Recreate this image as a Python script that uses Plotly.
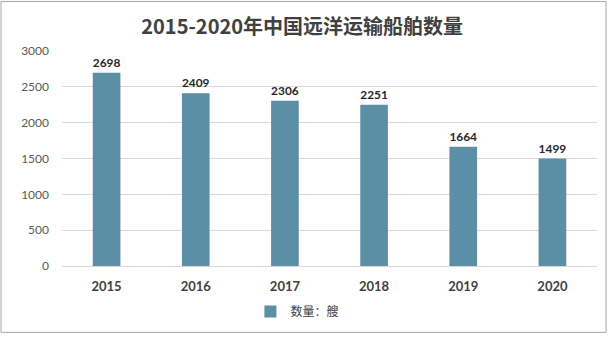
import plotly.graph_objects as go

years = ["2015", "2016", "2017", "2018", "2019", "2020"]
ships = [2698, 2409, 2306, 2251, 1664, 1499]
y_ticks = [0, 500, 1000, 1500, 2000, 2500, 3000]

W, H = 608, 337
ml, mr, mt, mb = 62, 11, 51, 69
pw, ph = W - ml - mr, H - mt - mb

font_latin = "Lato, 'Noto Sans CJK SC', sans-serif"
font_cjk = "'Noto Sans CJK SC', sans-serif"

fig = go.Figure()
fig.add_trace(go.Bar(
    x=years,
    y=ships,
    name="数量：艘",
    marker=dict(color="#5B8FA6", line=dict(width=0)),
    text=[str(v) for v in ships],
    textposition="outside",
    textfont=dict(family=font_latin, size=12, color="#262626", weight="bold"),
    cliponaxis=False,
))

def px_to_paper_x(px):
    return (px - ml) / pw

def px_to_paper_y(py):
    return (H - mb - py) / ph

fig.update_layout(
    width=W,
    height=H,
    margin=dict(l=ml, r=mr, t=mt, b=mb),
    paper_bgcolor="white",
    plot_bgcolor="white",
    bargap=0.69,
    title=dict(
        text="<b>2015-2020年中国远洋运输船舶数量</b>",
        font=dict(family=font_cjk, size=20, color="#404040"),
        x=0.497, xanchor="center", y=1 - 27 / H, yanchor="middle",
    ),
    xaxis=dict(
        showgrid=False,
        showline=True,
        linecolor="#D9D9D9",
        linewidth=1,
        ticks="",
        tickfont=dict(family=font_latin, size=13, color="#404040", weight="bold"),
        ticklabelstandoff=8,
    ),
    yaxis=dict(
        range=[0, 3000],
        tickvals=y_ticks,
        showgrid=True,
        gridcolor="#D9D9D9",
        gridwidth=1,
        zeroline=False,
        showline=False,
        ticks="",
        tickfont=dict(family=font_latin, size=12, color="#595959"),
        ticklabelstandoff=12,
    ),
    showlegend=True,
    legend=dict(
        orientation="h",
        x=0.44, xanchor="center",
        y=px_to_paper_y(314), yanchor="middle",
        font=dict(family=font_cjk, size=12, color="#404040"),
        itemwidth=30,
    ),
    shapes=[dict(
        type="rect", xref="paper", yref="paper",
        x0=px_to_paper_x(1), x1=px_to_paper_x(W - 2),
        y0=px_to_paper_y(H - 2), y1=px_to_paper_y(1),
        line=dict(color="#A6A6A6", width=1),
        fillcolor="rgba(0,0,0,0)",
        layer="below",
    )],
)

fig.write_html("out.html")
